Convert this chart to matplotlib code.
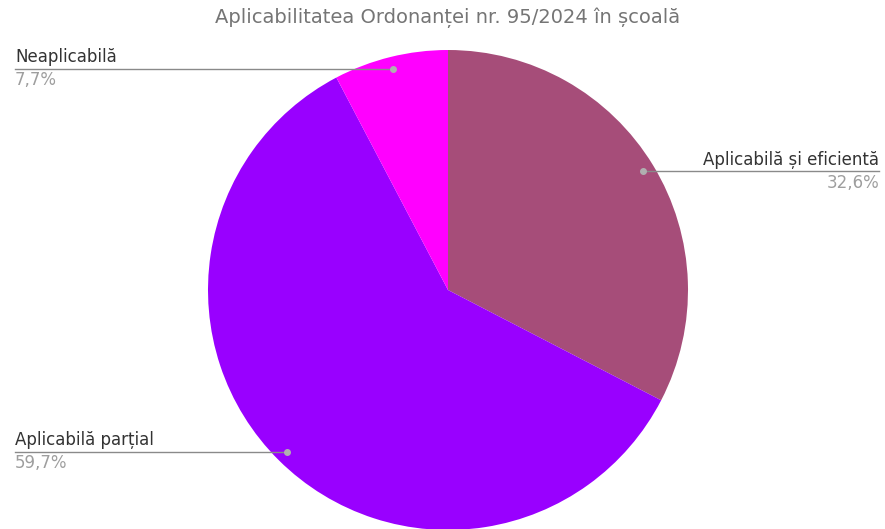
import numpy as np
import matplotlib.pyplot as plt

# Data
labels = ['Aplicabilă și eficientă', 'Aplicabilă parțial', 'Neaplicabilă']
values = [32.6, 59.7, 7.7]
pct_labels = ['32,6%', '59,7%', '7,7%']
colors = ['#a64d79', '#9900ff', '#ff00ff']

plt.rcParams['font.family'] = ['DejaVu Sans']

W, H = 885, 529
cx, cy, R = 448, 290, 240  # pie centre and radius in pixels

fig = plt.figure(figsize=(W / 100, H / 100), dpi=100)
ax = fig.add_axes([0, 0, 1, 1])

wedges, _ = ax.pie(values, colors=colors, startangle=90, counterclock=False,
                   radius=1, center=(0, 0), frame=True,
                   wedgeprops=dict(linewidth=0))
ax.set_xlim(-cx / R, (W - cx) / R)
ax.set_ylim(-(H - cy) / R, cy / R)
ax.axis('off')

# leader lines end at the figure margins
left_x = (15 - cx) / R
right_x = (879 - cx) / R
sides = ['right', 'left', 'left']

for w, lab, pct, side in zip(wedges, labels, pct_labels, sides):
    mid = np.deg2rad((w.theta1 + w.theta2) / 2)
    dx, dy = 0.95 * np.cos(mid), 0.95 * np.sin(mid)
    end = right_x if side == 'right' else left_x
    ax.plot([dx, end], [dy, dy], color='#8a8a8a', lw=1.0, zorder=3)
    ax.plot(dx, dy, 'o', color='#b0b0b0', ms=4, zorder=4)
    ha = 'right' if side == 'right' else 'left'
    ax.text(end, dy + 0.012, lab, ha=ha, va='bottom', fontsize=12, color='#333333')
    ax.text(end, dy - 0.01, pct, ha=ha, va='top', fontsize=12, color='#9e9e9e')

fig.text(cx / W, 1 - 18 / H, 'Aplicabilitatea Ordonanței nr. 95/2024 în școală',
         ha='center', va='center', fontsize=14, color='#757575')

fig.savefig('out.png', dpi=100)
